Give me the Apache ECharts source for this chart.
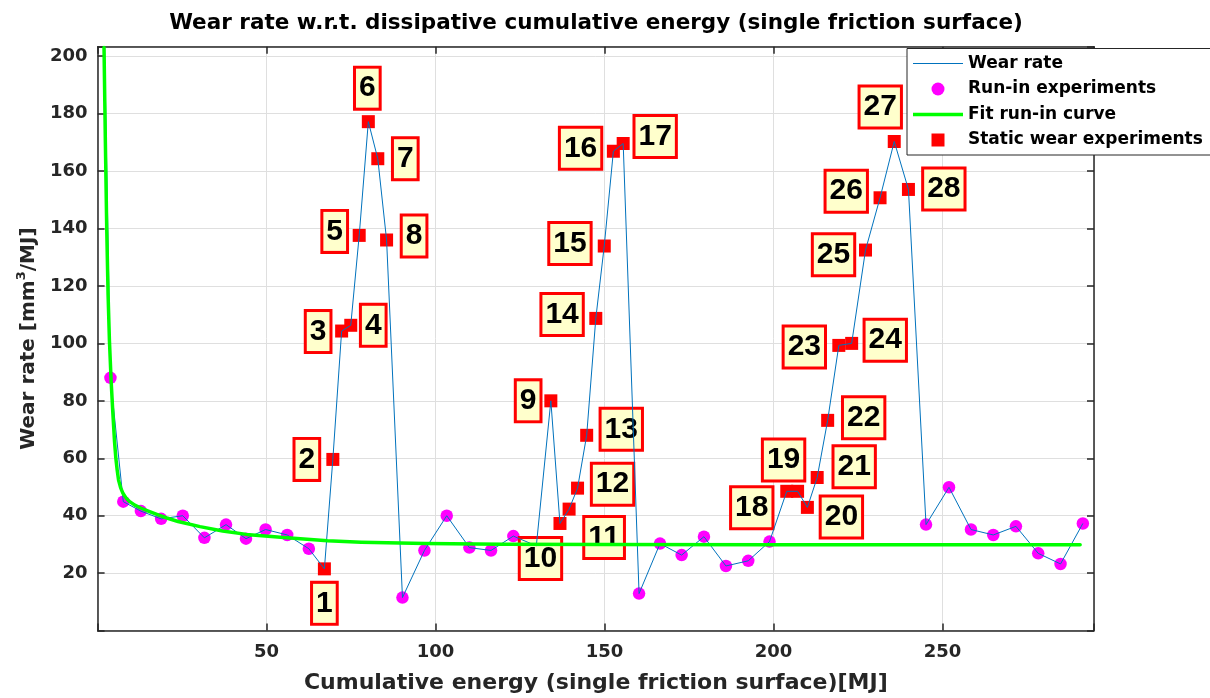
<!DOCTYPE html>
<html>
<head>
<meta charset="utf-8">
<script src="https://cdn.jsdelivr.net/npm/echarts@6/dist/echarts.min.js"></script>
<style>
html,body{margin:0;padding:0;background:#fff;}
#chart{width:1210px;height:698px;}
</style>
</head>
<body>
<div id="chart"></div>
<script>
// ---- data ----
const runInX = [1.2, 3.8, 7.6, 12.8, 18.8, 25.2, 31.6, 38.0, 43.9, 49.7, 56.1, 62.5,
  90.2, 96.7, 103.3, 110.0, 116.4, 123.0, 129.8,
  160.2, 166.4, 172.8, 179.4, 185.9, 192.5, 198.8,
  245.1, 251.9, 258.4, 265.0, 271.7, 278.3, 284.9, 291.5];
const runInY = [260, 88.0, 44.9, 41.6, 38.9, 40.0, 32.3, 36.9, 32.0, 35.2, 33.3, 28.5,
  11.5, 27.9, 40.0, 28.9, 27.9, 32.9, 29.5,
  12.9, 30.3, 26.3, 32.7, 22.5, 24.3, 31.0,
  36.9, 49.9, 35.2, 33.3, 36.3, 26.9, 23.2, 37.3];

const staticX = [67.1, 69.6, 72.2, 74.9, 77.4, 80.1, 82.9, 85.5,
  134.1, 136.8, 139.5, 142.0, 144.7, 147.4, 149.9, 152.6, 155.5,
  203.9, 207.1, 210.0, 212.9, 216.0, 219.3, 223.1, 227.2, 231.5, 235.7, 239.9];
const staticY = [21.5, 59.6, 104.3, 106.3, 137.6, 177.2, 164.3, 136.0,
  80.0, 37.3, 42.3, 49.6, 68.0, 108.7, 133.9, 166.9, 169.6,
  48.5, 48.5, 42.9, 53.3, 73.2, 99.3, 100.0, 132.5, 150.7, 170.3, 153.6];
const staticLabels = ['1','2','3','4','5','6','7','8','9','10','11','12','13','14',
  '15','16','17','18','19','20','21','22','23','24','25','26','27','28'];

const fitX = [1.9, 2.3, 2.7, 3.1, 3.5, 4.0, 4.5, 5.0, 5.4, 5.8, 6.2, 6.8, 7.5, 8.4, 9.5, 11.0, 12.9,
  15.0, 17.9, 20.5, 23.8, 30.3, 37.0, 44.0, 56.0, 68.0, 78.0, 97.0, 120.0, 150.0, 200.0, 250.0, 290.7];
const fitY = [203, 170, 140, 117, 101, 87, 76, 66, 60, 55.8, 52.4, 49.8, 47.8, 46.2, 44.9, 43.7, 42.6,
  41.6, 40.3, 39.2, 38.0, 36.2, 34.7, 33.5, 32.3, 31.3, 30.8, 30.3, 30.1, 30.0, 29.9, 29.9, 29.9];

const xTicks = [50, 100, 150, 200, 250];
const yTicks = [20, 40, 60, 80, 100, 120, 140, 160, 180, 200];
const legendNames = ['Wear rate', 'Run-in experiments', 'Fit run-in curve', 'Static wear experiments'];

// label placement (pixel offsets of each numbered box from its marker)
const labelOffsets = [[0,34.5],[-26,0],[-23.5,0.5],[22.5,0],[-24.5,-4],[-1,-33.5],[27.5,0],[27.5,-4],
  [-22.7,0],[-19.5,35],[35,28.5],[35,-4],[34.6,-6],[-33.7,-4],[-34.3,-2.5],[-32.8,-3],[32,-7],
  [-35,16.4],[-14,-31.4],[34,9.6],[37,-10.7],[36,-2.5],[-34.5,1.5],[33.6,-3.2],[-32,4.6],[-33.8,-6.6],[-14,-34.5],[35.4,-0.5]];

// ---- build series data ----
const runInData = runInX.map((x, i) => [x, runInY[i]]);
const staticData = staticX.map((x, i) => ({
  value: [x, staticY[i]],
  label: { formatter: staticLabels[i], offset: labelOffsets[i] }
}));
const wearData = runInData.concat(staticX.map((x, i) => [x, staticY[i]]))
  .sort((a, b) => a[0] - b[0]);
const fitData = fitX.map((x, i) => [x, fitY[i]]);

const FONT = 'DejaVu Sans';
const AX = '#262626';
const COLORS = { wear: '#0072BD', runin: '#FF00FF', fit: '#00FF00', stat: '#FF0000' };

// ---- legend drawn as graphic elements (box partly outside the canvas, as in the reference) ----
const LG = { x: 907, y: 48.5, w: 312, h: 106.5, row0: 15, pitch: 25.5, iconX: 6, iconW: 50, textX: 61 };
const legendEls = [{
  type: 'rect', z: 200, shape: { x: LG.x, y: LG.y, width: LG.w, height: LG.h },
  style: { fill: '#fff', stroke: AX, lineWidth: 1 }
}];
legendNames.forEach((name, i) => {
  const cy = LG.y + LG.row0 + i * LG.pitch;
  const x0 = LG.x + LG.iconX;
  const cx = x0 + LG.iconW / 2;
  if (i === 0 || i === 2) {
    legendEls.push({
      type: 'line', z: 201, shape: { x1: x0, y1: cy, x2: x0 + LG.iconW, y2: cy },
      style: { stroke: i === 0 ? COLORS.wear : COLORS.fit, lineWidth: i === 0 ? 1 : 3.5 }
    });
  } else if (i === 1) {
    legendEls.push({ type: 'circle', z: 201, shape: { cx: cx, cy: cy, r: 6.5 }, style: { fill: COLORS.runin } });
  } else {
    legendEls.push({ type: 'rect', z: 201, shape: { x: cx - 6.5, y: cy - 6.5, width: 13, height: 13 }, style: { fill: COLORS.stat } });
  }
  legendEls.push({
    type: 'text', z: 201, x: LG.x + LG.textX, y: cy,
    style: { text: name, font: 'bold 17px "DejaVu Sans"', fill: '#000',
      align: 'left', verticalAlign: 'middle', textAlign: 'left', textVerticalAlign: 'middle' }
  });
});

const chart = echarts.init(document.getElementById('chart'), null, { renderer: 'canvas' });
chart.setOption({
  animation: false,
  backgroundColor: '#ffffff',
  graphic: [{
    type: 'text', x: 596, y: 23, z: 200,
    style: {
      text: 'Wear rate w.r.t. dissipative cumulative energy (single friction surface)',
      font: 'bold 21.5px "DejaVu Sans"', fill: '#000',
      align: 'center', verticalAlign: 'middle', textAlign: 'center', textVerticalAlign: 'middle'
    }
  }].concat(legendEls),
  grid: { left: 97.6, right: 116, top: 46.7, bottom: 67.4, outerBoundsMode: 'none', containLabel: false },
  xAxis: [{
    type: 'value', min: 0, max: 294.8, interval: 50, position: 'bottom',
    axisLine: { onZero: false, lineStyle: { color: AX, width: 1.5 } },
    axisTick: { inside: true, length: 7, lineStyle: { color: AX, width: 1.5 } },
    axisLabel: {
      margin: 13, color: AX, fontFamily: FONT, fontWeight: 'bold', fontSize: 18,
      formatter: v => (xTicks.indexOf(v) >= 0 ? String(v) : '')
    },
    splitLine: { show: true, lineStyle: { color: '#dfdfdf', width: 1 } },
    name: 'Cumulative energy (single friction surface)[MJ]',
    nameLocation: 'middle', nameGap: 42,
    nameTextStyle: { fontFamily: FONT, fontWeight: 'bold', fontSize: 22, color: AX }
  }, {
    type: 'value', min: 0, max: 294.8, interval: 50, position: 'top',
    axisLine: { onZero: false, lineStyle: { color: AX, width: 1.5 } },
    axisTick: { inside: true, length: 7, lineStyle: { color: AX, width: 1.5 } },
    axisLabel: { show: false }, splitLine: { show: false }
  }],
  yAxis: [{
    type: 'value', min: 0, max: 203.3, interval: 20, position: 'left',
    axisLine: { onZero: false, lineStyle: { color: AX, width: 1.5 } },
    axisTick: { inside: true, length: 7, lineStyle: { color: AX, width: 1.5 } },
    axisLabel: {
      margin: 10, color: AX, fontFamily: FONT, fontWeight: 'bold', fontSize: 18,
      formatter: v => (yTicks.indexOf(v) >= 0 ? String(v) : '')
    },
    splitLine: { show: true, lineStyle: { color: '#dfdfdf', width: 1 } },
    name: '{a|Wear rate [mm}{s|3}{a|/MJ]}',
    nameLocation: 'middle', nameGap: 53,
    nameTextStyle: {
      rich: {
        a: { fontFamily: FONT, fontWeight: 'bold', fontSize: 20, color: AX, lineHeight: 24, verticalAlign: 'bottom' },
        s: { fontFamily: FONT, fontWeight: 'bold', fontSize: 13, color: AX, lineHeight: 14, verticalAlign: 'top' }
      }
    }
  }, {
    type: 'value', min: 0, max: 203.3, interval: 20, position: 'right',
    axisLine: { onZero: false, lineStyle: { color: AX, width: 1.5 } },
    axisTick: { inside: true, length: 7, lineStyle: { color: AX, width: 1.5 } },
    axisLabel: { show: false }, splitLine: { show: false }
  }],
  series: [{
    name: legendNames[0], type: 'line', data: wearData,
    symbol: 'none', showSymbol: false, clip: true,
    lineStyle: { color: COLORS.wear, width: 1 }, itemStyle: { color: COLORS.wear }
  }, {
    name: legendNames[1], type: 'scatter', data: runInData,
    symbol: 'circle', symbolSize: 12.5, clip: true,
    itemStyle: { color: COLORS.runin, opacity: 1 }
  }, {
    name: legendNames[2], type: 'line', data: fitData,
    symbol: 'none', showSymbol: false, clip: true, smooth: false,
    lineStyle: { color: COLORS.fit, width: 3.5, join: 'round', cap: 'round' }, itemStyle: { color: COLORS.fit }
  }, {
    name: legendNames[3], type: 'scatter', data: staticData,
    symbol: 'rect', symbolSize: 13, clip: true,
    itemStyle: { color: COLORS.stat, opacity: 1 },
    label: {
      show: true, position: 'inside',
      fontFamily: 'Liberation Sans', fontWeight: 'bold', fontSize: 30, lineHeight: 31,
      color: '#000', backgroundColor: '#FFFFCC',
      borderColor: COLORS.stat, borderWidth: 3, padding: [4, 3, 4, 3]
    },
    emphasis: { disabled: true }
  }]
});
</script>
</body>
</html>
